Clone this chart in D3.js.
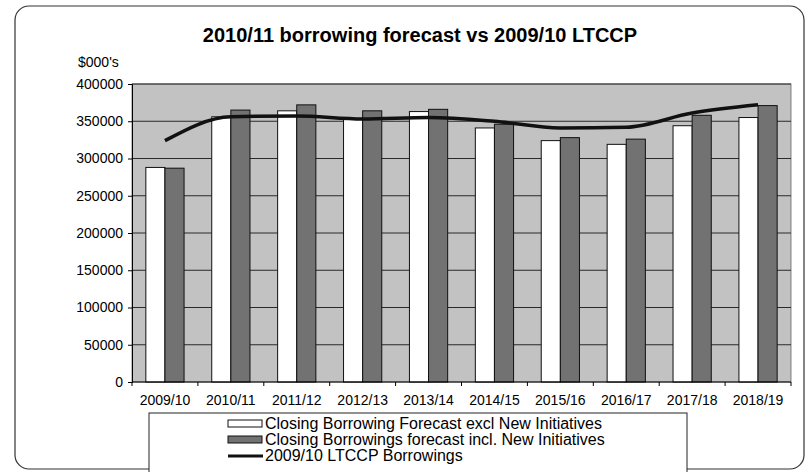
<!DOCTYPE html>
<html>
<head>
<meta charset="utf-8">
<script src="https://cdn.jsdelivr.net/npm/d3@7"></script>
<style>
  body { margin: 0; background: #fff; }
  svg { display: block; font-family: Arial, "Liberation Sans", sans-serif; }
</style>
</head>
<body>
<div id="chart"></div>
<script>
const w = 810;
const h = 472;

// data
const years = ["2009/10", "2010/11", "2011/12", "2012/13", "2013/14", "2014/15", "2015/16", "2016/17", "2017/18", "2018/19"];
const exclNew = [288000, 356000, 364000, 353000, 363000, 341000, 324000, 319000, 344000, 355000];
const inclNew = [287000, 365000, 372000, 364000, 366000, 346000, 328000, 326000, 358000, 371000];
const ltccp = [324000, 356000, 357000, 353000, 355000, 350000, 341000, 342000, 361000, 372000];
const yTicks = [0, 50000, 100000, 150000, 200000, 250000, 300000, 350000, 400000];
const legendLabels = ["Closing Borrowing Forecast excl New Initiatives", "Closing Borrowings forecast incl. New Initiatives", "2009/10 LTCCP Borrowings"];

const plot = {left: 132, right: 791, top: 84, bottom: 382};

const svg = d3.select('#chart').append('svg')
  .attr('width', w)
  .attr('height', h);

// outer chart frame
svg.append('rect')
  .attr('x', 15).attr('y', 6)
  .attr('width', 789).attr('height', 463)
  .attr('rx', 14)
  .attr('fill', '#fff')
  .attr('stroke', '#333')
  .attr('stroke-width', 1.2);

svg.append('text')
  .attr('x', 420).attr('y', 42)
  .attr('text-anchor', 'middle')
  .attr('font-size', 20)
  .attr('font-weight', 'bold')
  .text('2010/11 borrowing forecast vs 2009/10 LTCCP');

svg.append('text')
  .attr('x', 78).attr('y', 67)
  .attr('font-size', 14)
  .text("$000's");

const x0 = d3.scaleBand()
  .domain(years)
  .range([plot.left, plot.right])
  .paddingInner(0.42)
  .paddingOuter(0.21);

const x1 = d3.scaleBand()
  .domain(['excl', 'incl'])
  .range([0, x0.bandwidth()]);

const y = d3.scaleLinear()
  .domain([0, 400000])
  .range([plot.bottom, plot.top]);

// plot area
svg.append('rect')
  .attr('x', plot.left).attr('y', plot.top)
  .attr('width', plot.right - plot.left)
  .attr('height', plot.bottom - plot.top)
  .attr('fill', '#c2c2c2')
  .attr('stroke', '#666')
  .attr('stroke-width', 0.8);

svg.append('g')
  .selectAll('line')
  .data(yTicks.filter(d => d > 0))
  .enter().append('line')
  .attr('x1', plot.left).attr('x2', plot.right)
  .attr('y1', d => y(d)).attr('y2', d => y(d))
  .attr('stroke', '#2a2a2a')
  .attr('stroke-width', 1);

const yAxis = d3.axisLeft(y).tickValues(yTicks).tickFormat(d3.format('d')).tickSize(4).tickPadding(5);
const gy = svg.append('g')
  .attr('transform', 'translate(' + plot.left + ',0)')
  .call(yAxis);
gy.selectAll('text').attr('font-size', 14).attr('fill', '#000');
gy.selectAll('line,path').attr('stroke', '#000');

// bars
const groups = svg.append('g').selectAll('g')
  .data(years)
  .enter().append('g')
  .attr('transform', d => 'translate(' + x0(d) + ',0)');

groups.append('rect')
  .attr('x', x1('excl'))
  .attr('y', (d, i) => y(exclNew[i]))
  .attr('width', x1.bandwidth())
  .attr('height', (d, i) => plot.bottom - y(exclNew[i]))
  .attr('fill', '#fff')
  .attr('stroke', '#111')
  .attr('stroke-width', 1);

groups.append('rect')
  .attr('x', x1('incl'))
  .attr('y', (d, i) => y(inclNew[i]))
  .attr('width', x1.bandwidth())
  .attr('height', (d, i) => plot.bottom - y(inclNew[i]))
  .attr('fill', '#727272')
  .attr('stroke', '#111')
  .attr('stroke-width', 1);

// x axis with ticks on category boundaries
const step = x0.step();
svg.append('line')
  .attr('x1', plot.left).attr('x2', plot.right)
  .attr('y1', plot.bottom).attr('y2', plot.bottom)
  .attr('stroke', '#000');
svg.append('g').selectAll('line')
  .data(d3.range(years.length + 1))
  .enter().append('line')
  .attr('x1', i => plot.left + i * step).attr('x2', i => plot.left + i * step)
  .attr('y1', plot.bottom).attr('y2', plot.bottom + 4)
  .attr('stroke', '#000');
svg.append('g').selectAll('text')
  .data(years)
  .enter().append('text')
  .attr('x', d => x0(d) + x0.bandwidth() / 2)
  .attr('y', plot.bottom + 23)
  .attr('text-anchor', 'middle')
  .attr('font-size', 14)
  .text(d => d);

// LTCCP line
const line = d3.line()
  .x((d, i) => x0(years[i]) + x0.bandwidth() / 2)
  .y(d => y(d))
  .curve(d3.curveMonotoneX);

svg.append('path')
  .datum(ltccp)
  .attr('d', line)
  .attr('fill', 'none')
  .attr('stroke', '#111')
  .attr('stroke-width', 3.5);

// legend
const lg = svg.append('g');
lg.append('rect')
  .attr('x', 149).attr('y', 413)
  .attr('width', 538).attr('height', 60)
  .attr('fill', '#fff')
  .attr('stroke', '#222');

const rowY = [424, 440, 456];
lg.append('rect')
  .attr('x', 228).attr('y', rowY[0] - 4).attr('width', 34).attr('height', 7)
  .attr('fill', '#fff').attr('stroke', '#111');
lg.append('rect')
  .attr('x', 228).attr('y', rowY[1] - 4).attr('width', 34).attr('height', 7)
  .attr('fill', '#727272').attr('stroke', '#111');
lg.append('line')
  .attr('x1', 228).attr('x2', 263)
  .attr('y1', rowY[2]).attr('y2', rowY[2])
  .attr('stroke', '#111').attr('stroke-width', 3);

lg.selectAll('text')
  .data(legendLabels)
  .enter().append('text')
  .attr('x', 265)
  .attr('y', (d, i) => rowY[i] + 5)
  .attr('font-size', 16)
  .text(d => d);
</script>
</body>
</html>
